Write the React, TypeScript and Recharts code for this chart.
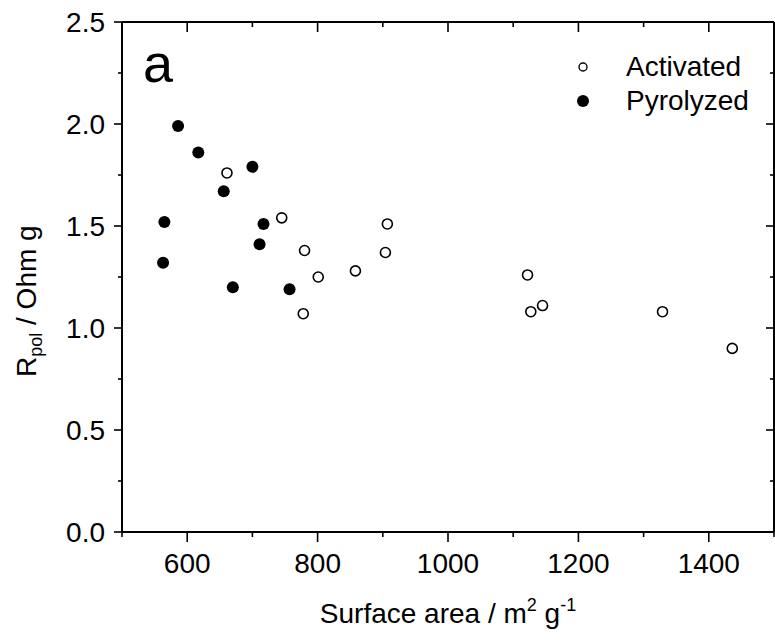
import React from "react";
import { Label, Legend, Scatter, ScatterChart, XAxis, YAxis } from "recharts";

// surface area (m2/g) vs polarisation resistance (Ohm g)
const activatedArea = [661, 745, 780, 801, 778, 858, 907, 904, 1122, 1127, 1145, 1329, 1436];
const activatedRpol = [1.76, 1.54, 1.38, 1.25, 1.07, 1.28, 1.51, 1.37, 1.26, 1.08, 1.11, 1.08, 0.9];
const pyrolyzedArea = [586, 617, 700, 656, 565, 717, 711, 563, 670, 757];
const pyrolyzedRpol = [1.99, 1.86, 1.79, 1.67, 1.52, 1.51, 1.41, 1.32, 1.2, 1.19];

const xMajor = [600, 800, 1000, 1200, 1400];
const xMinor = [500, 700, 900, 1100, 1300, 1500];
const yMajor = [0, 0.5, 1, 1.5, 2, 2.5];
const yMinor = [0.25, 0.75, 1.25, 1.75, 2.25];

const activated = activatedArea.map((x, i) => ({ x, y: activatedRpol[i] }));
const pyrolyzed = pyrolyzedArea.map((x, i) => ({ x, y: pyrolyzedRpol[i] }));

const xTicks = [...xMinor, ...xMajor].sort((a, b) => a - b);
const yTicks = [...yMajor, ...yMinor].sort((a, b) => a - b);

const FONT = "'Liberation Sans', Arial, sans-serif";

const isMajor = (list: number[], v: number) => list.some((m) => Math.abs(m - v) < 1e-9);

function makeTick(side: "bottom" | "left" | "top" | "right") {
  return (props: any) => {
    const { x, y, payload } = props;
    const v = payload.value;
    const major = isMajor(side === "bottom" || side === "top" ? xMajor : yMajor, v);
    const len = side === "bottom" || side === "top" ? (major ? 10 : 5) : major ? 8 : 4;
    let line;
    if (side === "bottom" || side === "top") line = <line x1={x} y1={y} x2={x} y2={y + len} />;
    else if (side === "left") line = <line x1={x - len} y1={y} x2={x} y2={y} />;
    else line = <line x1={x} y1={y} x2={x - len} y2={y} />;
    return (
      <g>
        <g stroke="#000" strokeWidth={1.6}>{line}</g>
        {major && side === "bottom" && (
          <text x={x} y={y + 41} textAnchor="middle" fontSize={28} fontFamily={FONT} fill="#000">
            {v}
          </text>
        )}
        {major && side === "left" && (
          <text x={x - 17} y={y + 10} textAnchor="end" fontSize={28} fontFamily={FONT} fill="#000">
            {v.toFixed(1)}
          </text>
        )}
      </g>
    );
  };
}

const openDot = (p: any) => (
  <circle cx={p.cx} cy={p.cy} r={5} fill="#fff" stroke="#000" strokeWidth={1.6} />
);
const filledDot = (p: any) => <circle cx={p.cx} cy={p.cy} r={6} fill="#000" />;

function LegendBox() {
  return (
    <svg width={200} height={80} style={{ display: "block" }}>
      <circle cx={13} cy={22} r={4} fill="#fff" stroke="#000" strokeWidth={1.4} />
      <circle cx={13} cy={56} r={6} fill="#000" />
      <text x={56} y={31} fontSize={28} fontFamily={FONT} fill="#000">Activated</text>
      <text x={56} y={65} fontSize={28} fontFamily={FONT} fill="#000">Pyrolyzed</text>
    </svg>
  );
}

export default function App() {
  return (
    <div style={{ position: "absolute", left: 0, top: 0, background: "#fff" }}>
      <ScatterChart width={775} height={641} margin={{ top: 21, right: 0, bottom: 49, left: 62 }}>
        <XAxis
          dataKey="x"
          type="number"
          domain={[500, 1500]}
          allowDataOverflow
          ticks={xTicks}
          interval={0}
          height={60}
          tickSize={0}
          tickMargin={0}
          tickLine={false}
          axisLine={{ stroke: "#000", strokeWidth: 2 }}
          tick={makeTick("bottom")}
        >
          <Label
            content={() => (
              <text x={448} y={623} textAnchor="middle" fontSize={28} fontFamily={FONT} fill="#000">
                Surface area / m
                <tspan dy={-12} fontSize={18}>2</tspan>
                <tspan dy={12}> g</tspan>
                <tspan dy={-12} fontSize={18}>-1</tspan>
              </text>
            )}
          />
        </XAxis>
        <XAxis
          xAxisId="top"
          orientation="top"
          dataKey="x"
          type="number"
          domain={[500, 1500]}
          allowDataOverflow
          ticks={xTicks}
          interval={0}
          height={1}
          tickSize={0}
          tickMargin={0}
          tickLine={false}
          axisLine={{ stroke: "#000", strokeWidth: 2 }}
          tick={makeTick("top")}
        />
        <YAxis
          dataKey="y"
          type="number"
          domain={[0, 2.5]}
          allowDataOverflow
          ticks={yTicks}
          interval={0}
          width={60}
          tickSize={0}
          tickMargin={0}
          tickLine={false}
          axisLine={{ stroke: "#000", strokeWidth: 2 }}
          tick={makeTick("left")}
        >
          <Label
            content={() => (
              <text
                x={36}
                y={377}
                transform="rotate(-90, 36, 377)"
                fontSize={28}
                fontFamily={FONT}
                fill="#000"
              >
                R
                <tspan dy={6} fontSize={18}>pol</tspan>
                <tspan dy={-6}> / Ohm g</tspan>
              </text>
            )}
          />
        </YAxis>
        <YAxis
          yAxisId="right"
          orientation="right"
          dataKey="y"
          type="number"
          domain={[0, 2.5]}
          allowDataOverflow
          ticks={yTicks}
          interval={0}
          width={1}
          tickSize={0}
          tickMargin={0}
          tickLine={false}
          axisLine={{ stroke: "#000", strokeWidth: 2 }}
          tick={makeTick("right")}
        />
        <Label
          content={() => (
            <text x={143} y={82} fontSize={54} fontFamily={FONT} fill="#000">a</text>
          )}
        />
        <Legend
          layout="horizontal"
          verticalAlign="middle"
          align="center"
          wrapperStyle={{ position: "absolute", left: 570, top: 45, width: 200, height: 80 }}
          content={() => <LegendBox />}
        />
        <Scatter name="Activated" data={activated} shape={openDot} isAnimationActive={false} />
        <Scatter name="Pyrolyzed" data={pyrolyzed} shape={filledDot} isAnimationActive={false} />
        <Scatter
          name="frame"
          xAxisId="top"
          yAxisId="right"
          data={pyrolyzed}
          shape={() => <g />}
          legendType="none"
          isAnimationActive={false}
        />
      </ScatterChart>
    </div>
  );
}
